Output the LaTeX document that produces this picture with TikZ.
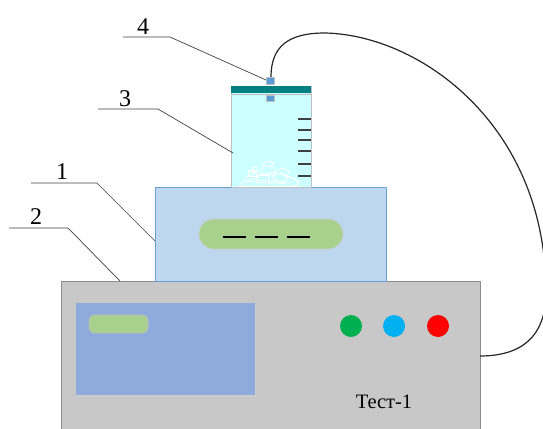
\documentclass[tikz,border=0pt]{standalone}
\usepackage{fontspec}
\setmainfont{Liberation Serif}
\definecolor{basegray}{HTML}{C8C8C8}
\definecolor{baseedge}{HTML}{8C8C8C}
\definecolor{panelblue}{HTML}{8FAADC}
\definecolor{displaygreen}{HTML}{A9D18E}
\definecolor{stirblue}{HTML}{BDD7EE}
\definecolor{stiredge}{HTML}{6A9FD4}
\definecolor{glasscyan}{HTML}{CCFFFF}
\definecolor{lidteal}{HTML}{008080}
\definecolor{sensorblue}{HTML}{5B9BD5}
\definecolor{btngreen}{HTML}{00B050}
\definecolor{btnblue}{HTML}{00B0F0}
\definecolor{btnred}{HTML}{FF0000}
\tikzset{
  leader/.style={draw=black!75, line width=0.7pt},
  digit/.style={inner sep=0pt, font=\fontsize{24}{28}\selectfont},
  tick/.style={draw=black!75, line width=1.6pt},
  crystal/.style={draw=white, line width=0.8pt},
  cable/.style={draw=black!85, line width=1.2pt}
}
\begin{document}
\begin{tikzpicture}[x=1pt,y=-1pt,line join=round]
\useasboundingbox (0,0) rectangle (543,428);
\clip (0,0) rectangle (543,428);

% base unit (2)
\fill[basegray] (61,281) rectangle (480,432);
\draw[baseedge, line width=0.9pt] (61,432) -- (61,281) -- (480,281) -- (480,432);
\coordinate (basetop) at (120,281);
\coordinate (baseright) at (480,356);

% front display panel
\fill[black!20] (77,304) rectangle (256,397);
\fill[panelblue] (76,303) rectangle (255,395);
\draw[fill=displaygreen, draw=black!25, line width=0.6pt, rounded corners=5pt] (89,315) rectangle (148,333);

% buttons
\fill[btngreen] (351,326) circle (11);
\fill[btnblue] (394,326) circle (11);
\fill[btnred] (438,326) circle (11);

\node (name) at (384,402) {\fontsize{20.5}{24}\selectfont Тест-1};

% magnetic stirrer (1)
\draw[fill=stirblue, draw=stiredge, line width=0.8pt] (155,187) rectangle (386,281);
\coordinate (stirleft) at (155,241);
\draw[fill=displaygreen, draw=black!20, line width=0.6pt, rounded corners=15pt] (199,219) rectangle (343,249);
\foreach \a/\b in {223/246, 255/278, 287/310}
  \draw[black, line width=1.6pt] (\a,237) -- (\b,237);

% beaker (3)
\draw[fill=glasscyan, draw=black!25, line width=1pt] (231,86) rectangle (311,187);
\fill[lidteal] (231,86) rectangle (311,93);
\draw[black!25, line width=1pt] (231,94) -- (311,94);
\coordinate (beakerleft) at (233,153);
\foreach \y in {119,130,140,151,164,176}
  \draw[tick] (298,\y) -- (311,\y);

% crystals at the bottom
\draw[crystal] (240,185) .. controls (244,178) and (252,182) .. (258,177) .. controls (262,172) and (270,176) .. (276,173) .. controls (283,171) and (288,178) .. (296,180) .. controls (300,182) and (298,186) .. (292,185);
\draw[crystal] (250,172) -- (262,170) -- (264,166) -- (274,167) -- (276,172) -- (266,174) -- cycle;
\draw[crystal] (246,183) .. controls (252,179) and (262,186) .. (270,181) .. controls (276,178) and (284,186) .. (291,182);
\draw[crystal] (256,180) rectangle (268,175);
\draw[crystal] (272,176) .. controls (278,172) and (286,174) .. (288,179) .. controls (284,183) and (276,182) .. (272,176);
\draw[crystal] (262,165) -- (268,161) -- (274,163) -- (270,167);
\draw[crystal] (244,180) .. controls (248,174) and (254,176) .. (256,172) -- (252,168) -- (258,166);
\draw[crystal] (278,170) -- (284,168) -- (290,172) -- (286,176) -- (294,178) -- (300,183);
\draw[crystal] (248,176) rectangle (256,170);
\draw[crystal] (268,184) .. controls (274,180) and (280,186) .. (286,182);
\draw[crystal] (238,186) -- (300,186);

% sensor (4)
\draw[fill=sensorblue, draw=black!25, line width=0.5pt] (266,77) rectangle (274,84);
\draw[fill=sensorblue, draw=black!25, line width=0.5pt] (266,95) rectangle (274,101);
\coordinate (sensor) at (266,80);
\coordinate (plug) at (271,77);

% cable from sensor to base unit
\draw[cable] (plug) .. controls (271,45) and (290,33) .. (325,33)
  .. controls (420,35) and (546,125) .. (546,292)
  .. controls (546,338) and (520,356) .. (baseright);

% numbered leaders
\node[digit] (n4) at (143,27) {4};
\draw[leader] (123,37) -- (170,37) -- (sensor);
\node[digit] (n3) at (125,99) {3};
\draw[leader] (98,109) -- (158,109) -- (beakerleft);
\node[digit] (n1) at (62,172) {1};
\draw[leader] (31,183) -- (97,183) -- (stirleft);
\node[digit] (n2) at (36,217) {2};
\draw[leader] (9,228) -- (68,228) -- (basetop);
\end{tikzpicture}
\end{document}
